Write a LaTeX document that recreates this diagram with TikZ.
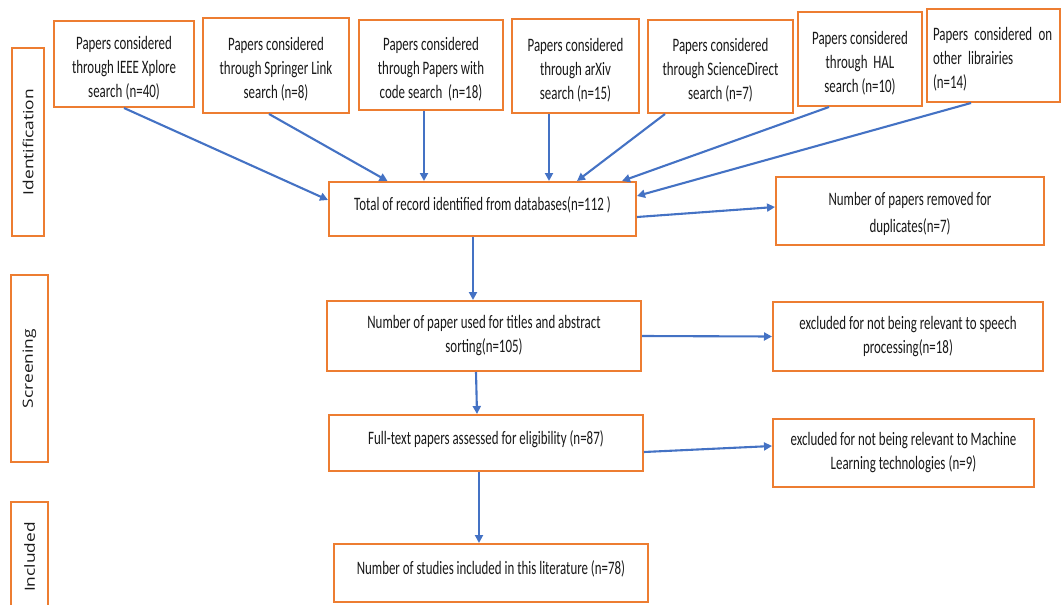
\documentclass[tikz,border=0pt]{standalone}
\usepackage{fontspec}
\setmainfont[FakeStretch=0.68]{Carlito}
\newfontfamily\sidefont[FakeStretch=1.24]{Open Sans}
\usetikzlibrary{arrows.meta}
\definecolor{boxorange}{HTML}{ED7D31}
\definecolor{arrowblue}{HTML}{4472C4}
\tikzset{
  box/.style={draw=boxorange, line width=2pt, fill=white, inner sep=0pt, align=center,
    font=\fontsize{19}{24}\selectfont, text=black!90},
  sidebox/.style={draw=boxorange, line width=2pt, inner sep=0pt, rotate=90,
    font=\sidefont\fontsize{14}{16}\selectfont, text=black!90},
  arr/.style={draw=arrowblue, line width=2.1pt, -{Triangle[length=8pt,width=8pt]}},
}
\newcommand{\dn}{\rule{0pt}{21pt}}
\newcommand{\upl}{\\[-14pt]\mbox{}}
\begin{document}
\begin{tikzpicture}[x=1pt,y=-1pt]
\useasboundingbox (0,0) rectangle (1061,605);
% side labels
\node[sidebox, minimum width=188pt, minimum height=32pt] (sid) at (28,142) {Identification};
\node[sidebox, minimum width=187pt, minimum height=37pt] (sscr) at (29.5,368.5) {Screening};
\node[sidebox, minimum width=110pt, minimum height=37pt] (sinc) at (29.5,557) {Included};
% top boxes
\node[box, minimum width=140pt, minimum height=86pt] (ieee) at (124,64) {\dn Papers considered\\through IEEE Xplore\\search\,(n=40)};
\node[box, minimum width=146pt, minimum height=95pt] (spr) at (276,65.5) {\dn Papers considered\\through Springer Link\\search (n=8)};
\node[box, minimum width=144pt, minimum height=90pt] (pwc) at (431,65) {\dn Papers considered\\through Papers with\\code search\ \ (n=18)};
\node[box, minimum width=127pt, minimum height=94pt] (arx) at (575.5,66) {\dn Papers considered\\through arXiv\\search (n=15)};
\node[box, minimum width=145pt, minimum height=93pt] (sci) at (720.5,66.5) {\dn Papers considered\\through ScienceDirect\\search (n=7)};
\node[box, minimum width=124pt, minimum height=94pt] (hal) at (860,59) {\dn Papers considered\\through\ \ HAL\\search (n=10)};
\node[box, minimum width=133pt, minimum height=93pt, align=left, text width=121pt] (oth) at (993.5,55.5) {\dn Papers considered on\\other librairies\\(n=14)};
% main column
\node[box, minimum width=307pt, minimum height=54pt] (tot) at (482.5,209) {Total of record identified from databases(n=112 )\upl};
\node[box, minimum width=268pt, minimum height=68pt] (dup) at (910,211) {\rule{0pt}{20pt}Number of papers removed for\\[3pt]duplicates(n=7)};
\node[box, minimum width=314pt, minimum height=70pt] (sort) at (484,336) {Number of paper used for titles and abstract\\sorting(n=105)};
\node[box, minimum width=270pt, minimum height=69pt] (spe) at (908,336.5) {excluded for not being relevant to speech\\processing(n=18)};
\node[box, minimum width=314pt, minimum height=56pt] (full) at (486,443) {Full-text papers assessed for eligibility (n=87)\upl};
\node[box, minimum width=261pt, minimum height=68pt] (mlx) at (903.5,453) {excluded for not being relevant to Machine\\Learning technologies\,(n=9)};
\node[box, minimum width=314pt, minimum height=58pt] (fin) at (491,573) {Number of studies included in this literature (n=78)\upl};
% arrows
\draw[arr] (ieee.south) -- ([yshift=9pt]tot.west);
\draw[arr] ([xshift=-7pt]spr.south) -- ([xshift=-95pt]tot.north);
\draw[arr] ([xshift=-7pt]pwc.south) -- ([xshift=-58.5pt]tot.north);
\draw[arr] ([xshift=-26.5pt]arx.south) -- ([xshift=66.5pt]tot.north);
\draw[arr] ([xshift=-55.5pt]sci.south) -- ([xshift=94.5pt]tot.north);
\draw[arr] ([xshift=-31pt]hal.south) -- ([xshift=139.5pt]tot.north);
\draw[arr] ([xshift=-22.5pt]oth.south) -- ([yshift=13pt]tot.east);
\draw[arr] ([yshift=-8pt]tot.east) -- ([yshift=4pt]dup.west);
\draw[arr] ([xshift=-9.5pt]tot.south) -- ([xshift=-11pt]sort.north);
\draw[arr] ([xshift=-8pt]sort.south) -- ([xshift=-9pt]full.north);
\draw[arr] ([xshift=-7pt]full.south) -- ([xshift=-12pt]fin.north);
\draw[arr] (sort.east) -- (spe.west);
\draw[arr] ([yshift=-9pt]full.east) -- ([yshift=7pt]mlx.west);
\end{tikzpicture}
\end{document}
